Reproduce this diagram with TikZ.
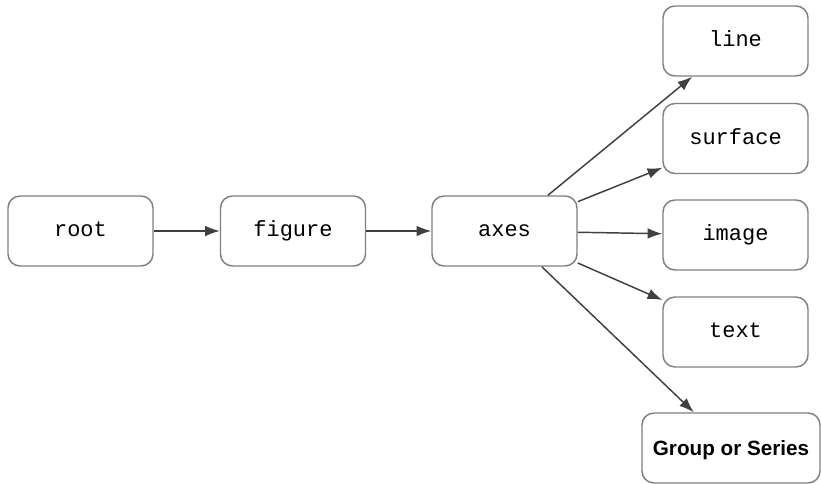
\documentclass[tikz,border=0pt]{standalone}
\usepackage{fontspec}
\setmainfont{Liberation Sans}
\setsansfont{Liberation Sans}
\setmonofont{Liberation Mono}
\usetikzlibrary{arrows.meta}

\tikzset{
  obj/.style={draw=black!50, line width=1.1pt, rounded corners=9pt, fill=white,
    minimum width=108.75pt, minimum height=52.5pt, inner sep=0pt,
    text height=11pt, text depth=2.5pt,
    font=\fontsize{16.5}{19}\ttfamily},
  grp/.style={obj, minimum width=133.5pt, text height=13pt, text depth=1.5pt,
    font=\fontsize{15.5}{18}\sffamily\bfseries},
  link/.style={draw=black!75, line width=1.1pt, -{Latex[length=11pt,width=8pt]}}
}

\begin{document}
\begin{tikzpicture}[x=0.75pt, y=-0.75pt]
  \useasboundingbox (0, 0) rectangle (821, 484);

  % Main chain
  \node[obj] (root) at (80.5, 231) {root};
  \node[obj] (figure) at (293, 231) {figure};
  \node[obj] (axes) at (504.5, 231) {axes};

  % Children of axes
  \node[obj] (line) at (735.5, 41) {line};
  \node[obj] (surface) at (735.5, 138.5) {surface};
  \node[obj] (image) at (735.5, 235) {image};
  \node[obj] (text) at (735.5, 332) {text};
  \node[grp] (group) at (731, 448) {Group or Series};

  % Arrows
  \draw[link] (root) -- (figure);
  \draw[link] (figure) -- (axes);
  \draw[link] (axes) -- (line);
  \draw[link] (axes) -- (surface);
  \draw[link] (axes) -- (image);
  \draw[link] (axes) -- (text);
  \draw[link] (axes) -- (group);
\end{tikzpicture}
\end{document}
